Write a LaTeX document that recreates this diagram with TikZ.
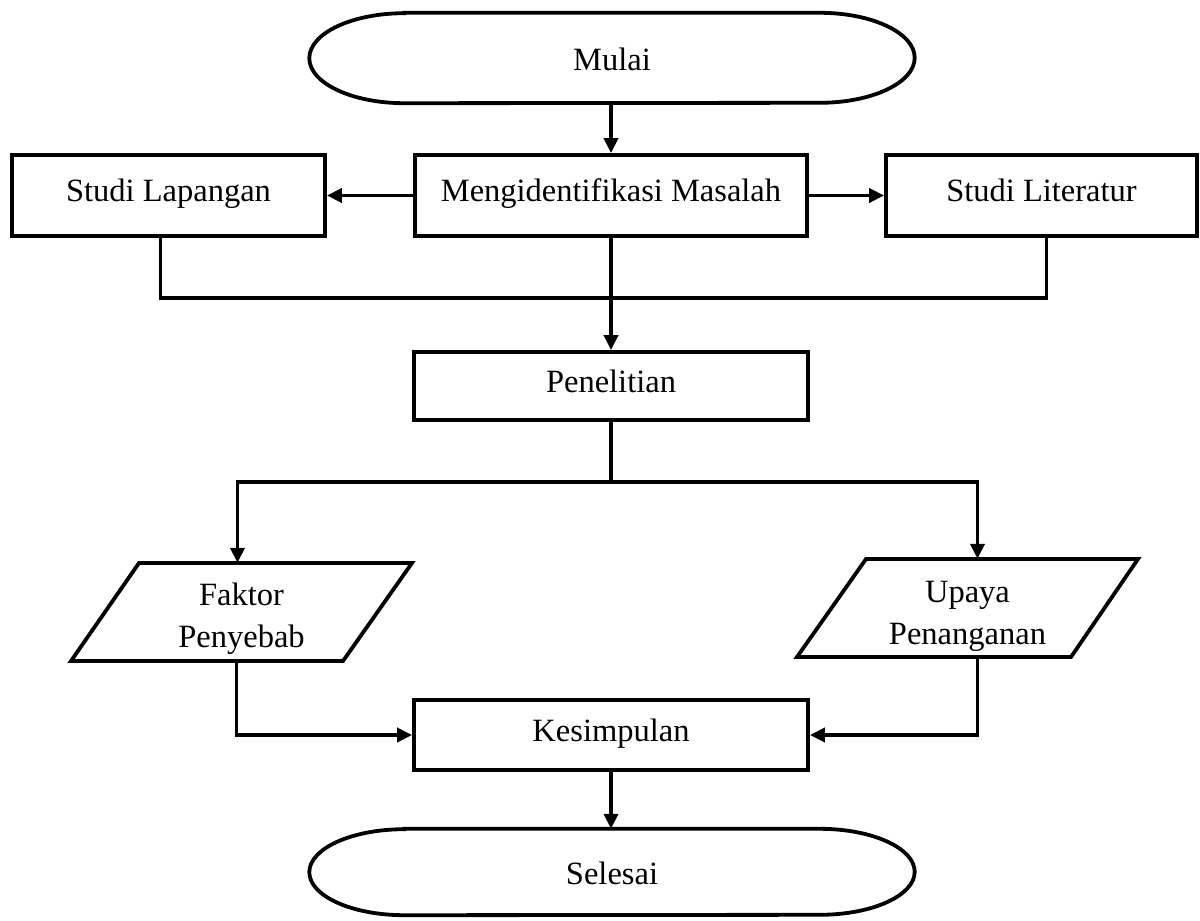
\documentclass[tikz,border=0pt]{standalone}
\usepackage{fontspec}
\setmainfont{Liberation Serif}
\usetikzlibrary{arrows.meta,positioning}
\tikzset{
  ln/.style={line width=3.8pt, line join=miter},
  arr/.style={ln, -{Triangle[length=15pt,width=14pt]}},
  txt/.style={font=\fontsize{32.5}{42}\selectfont, align=center, inner sep=0pt},
  box/.style={txt, draw, line width=3.8pt, rectangle, text height=22pt, text depth=10pt},
  termnode/.style={txt, minimum width=605pt, minimum height=90pt, text height=30pt, text depth=5pt},
  paranode/.style={inner sep=0pt, minimum width=200pt, minimum height=98pt}
}
\begin{document}
\begin{tikzpicture}[x=1pt,y=-1pt]
\useasboundingbox (0,0) rectangle (1200,921);

% terminals
\node[termnode] (mulai) at (612,58) {Mulai};
\node[termnode, minimum height=86pt] (selesai) at (612,872) {Selesai};
\foreach \t/\ry in {mulai/45pt, selesai/43pt}{
  \draw[ln] ([xshift=95pt]\t.north west) -- ([xshift=-95pt]\t.north east)
    arc[start angle=90,end angle=-90,x radius=95pt,y radius=\ry]
    -- ([xshift=95pt]\t.south west)
    arc[start angle=270,end angle=90,x radius=95pt,y radius=\ry] -- cycle;
}

% boxes
\node[box, minimum width=392pt, minimum height=81pt] (ident) at (611,195.5) {Mengidentifikasi Masalah};
\node[box, minimum width=313pt, minimum height=81pt] (lap) at (168.5,195.5) {Studi Lapangan};
\node[box, minimum width=311pt, minimum height=81pt] (lit) at (1041.5,195.5) {Studi Literatur};
\node[box, minimum width=394pt, minimum height=68pt] (pen) at (611,386) {Penelitian};
\node[box, minimum width=394pt, minimum height=70pt] (kes) at (611,735) {Kesimpulan};

% parallelograms
\node[paranode] (faktor) at (241.5,612) {};
\node[paranode] (upaya) at (967.5,608) {};
\draw[ln, shift={(faktor.center)}] (-102.5,-49) -- (170.5,-49) -- (101.5,49) -- (-170.5,49) -- cycle;
\draw[ln, shift={(upaya.center)}] (-101.5,-49) -- (170.5,-49) -- (103.5,49) -- (-170.5,49) -- cycle;
\node[txt] (faktortxt) at ([yshift=-7pt]faktor.center) {Faktor\\Penyebab};
\node[txt] (upayatxt) at ([yshift=-8pt]upaya.center) {Upaya\\Penanganan};

% connectors
\draw[arr] (mulai.south -| ident.north) -- (ident.north);
\draw[arr] (ident.west) -- (lap.east);
\draw[arr] (ident.east) -- (lit.west);

\coordinate (merge) at (611,298);
\draw[ln] ([xshift=-8pt]lap.south) |- (merge) -| ([xshift=5pt]lit.south);
\draw[arr] (ident.south) -- (pen.north);

\coordinate (split) at (611,482);
\draw[ln] (pen.south) -- (split);
\draw[arr] (split) -| ([xshift=-4pt]faktor.north);
\draw[arr] (split) -| ([xshift=10pt]upaya.north);

\draw[arr] ([xshift=-5pt]faktor.south) |- (kes.west);
\draw[arr] ([xshift=10pt]upaya.south) |- (kes.east);
\draw[arr] (kes.south) -- (kes.south |- selesai.north);
\end{tikzpicture}
\end{document}
